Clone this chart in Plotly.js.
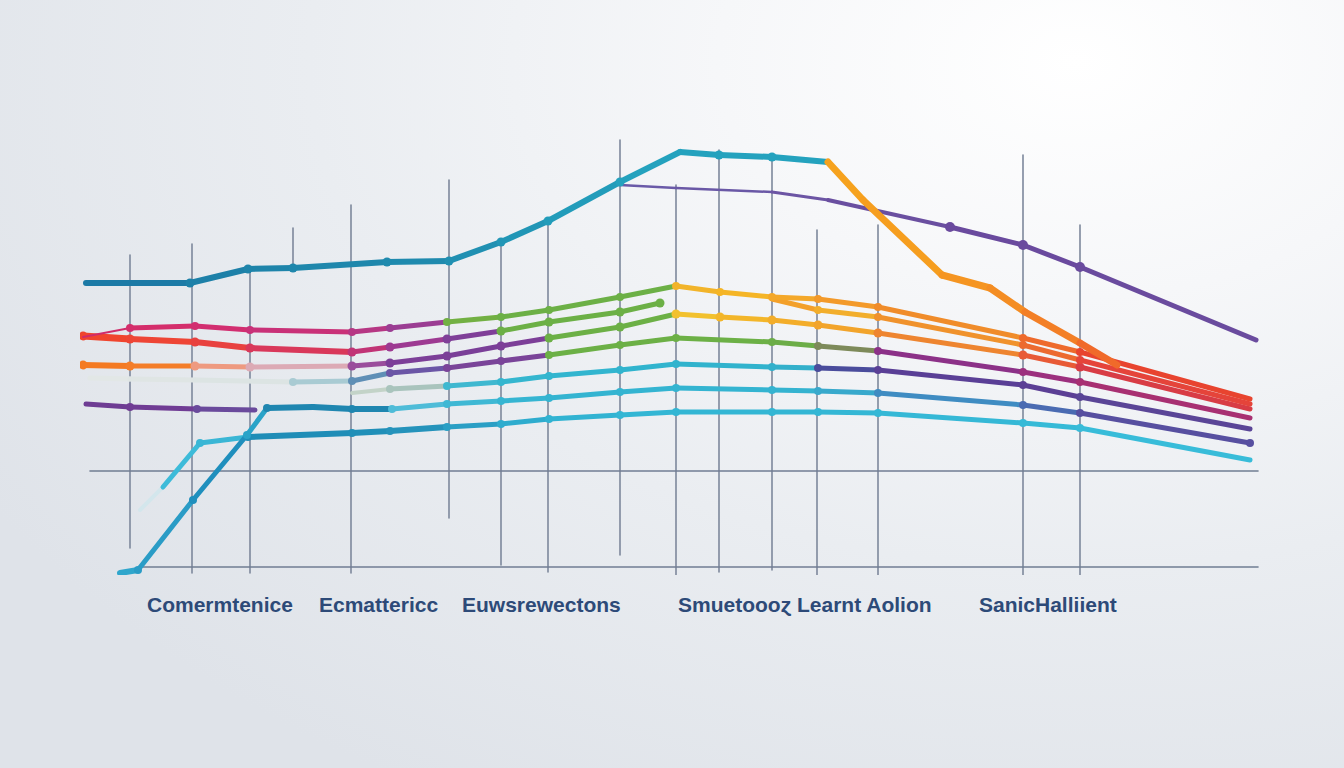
<!DOCTYPE html>
<html>
<head>
<meta charset="utf-8">
<script src="https://cdn.plot.ly/plotly-3.0.1.min.js"></script>
<style>
html,body{margin:0;padding:0;width:1344px;height:768px;overflow:hidden;}
body{background:radial-gradient(ellipse 95% 110% at 80% 8%, #ffffff 0%, #f6f7f9 28%, #eaedf1 60%, #dfe3e9 100%);}
#chart{width:1344px;height:768px;}
path.js-line{stroke-linecap:round;stroke-linejoin:round;}
</style>
</head>
<body>
<div id="chart"></div>
<script>
// ---- category labels ----
const categories = ["Comermtenice", "Ecmattericc", "Euwsrewectons", "Smuetoooɀ Learnt Aolion", "SanicHalliient"];
const categoryX = [14, 29.8, 46.1, 72.5, 96.8];

// ---- vertical guide lines ----
const guideX   = [5, 11.2, 17, 21.3, 27.1, 36.9, 42.1, 46.8, 54, 59.6, 63.9, 69.2, 73.7, 79.8, 94.3, 100];
const guideTop = [31, 32.1, 29.5, 33.7, 36, 38.5, 32.5, 34.5, 42.5, 38, 41.5, 41, 33.5, 34, 41, 34];
const guideBot = [1.7, -0.8, -0.8, 29.6, -0.8, 4.7, 0, -0.7, 1, -1, -0.7, -0.5, -1, -1, -1, -1];

// ---- horizontal guide lines ----
const hLineY  = [9.4, -0.2];
const hLineX0 = [1, 6.3];
const hLineX1 = [117.8, 117.8];

// ---- series ----
const xTeal = [0.6, 11, 16.8, 21.3, 30.7, 36.9, 42.1, 46.8, 54, 60, 63.9, 69.2, 74.8];
const yTeal = [28.2, 28.2, 29.6, 29.7, 30.3, 30.4, 32.3, 34.4, 38.3, 41.3, 41.0, 40.8, 40.3];

const xDrop = [74.8, 78.3, 86.2, 91, 94.5, 100, 103.7];
const yDrop = [40.3, 36.5, 29, 27.7, 25.3, 22.2, 20.0];

const xViolet = [54, 59.6, 69.2, 74.8, 87, 94.3, 100, 117.6];
const yViolet = [38, 37.7, 37.3, 36.5, 33.8, 32, 29.8, 22.5];

const xA = [0.3, 5, 11.5, 17, 27.2, 31, 36.7, 42.1, 46.9, 54, 59.6, 64, 69.2, 73.8, 79.8, 94.3, 100, 117];
const yA = [22.8, 23.7, 23.9, 23.5, 23.3, 23.7, 24.3, 24.8, 25.5, 26.8, 27.9, 27.3, 26.8, 26.6, 25.8, 22.7, 21.3, 16.6];

const xB1 = [0.3, 5, 11.5, 17, 27.2, 31, 36.7, 42.1, 46.9, 54, 58];
const yB1 = [22.9, 22.6, 22.3, 21.7, 21.3, 21.8, 22.6, 23.4, 24.3, 25.3, 26.2];

const xB2 = [69.2, 73.8, 79.8, 94.3, 100, 117];
const yB2 = [26.6, 25.5, 24.8, 22, 20.5, 16.1];

const xC = [0.3, 5, 11.5, 17, 27.2, 31, 36.7, 42.1, 46.9, 54, 59.6, 64, 69.2, 73.8, 79.8, 94.3, 100, 117];
const yC = [20, 19.9, 19.9, 19.8, 19.9, 20.2, 20.9, 21.9, 22.7, 23.8, 25.1, 24.8, 24.5, 24, 23.2, 21, 19.8, 15.6];

const xD = [1, 5, 11.5, 21.3, 27.2, 31, 36.7, 42.1, 46.9, 54, 59.6, 69.2, 73.8, 79.8, 94.3, 100, 117];
const yD = [18.7, 18.6, 18.5, 18.3, 18.4, 19.2, 19.7, 20.4, 21, 22, 22.7, 22.3, 21.9, 21.4, 19.3, 18.3, 14.7];

const xE = [27.2, 31, 36.7, 42.1, 46.9, 54, 59.6, 69.2, 73.8, 79.8, 94.3, 100, 117];
const yE = [17.2, 17.6, 17.9, 18.3, 18.9, 19.5, 20.1, 19.8, 19.7, 19.5, 18, 16.8, 13.6];

const xF = [4, 5.8, 11.3, 16.7, 18.7, 23.3, 27.2, 31.2, 36.7, 42.1, 46.9, 54, 59.6, 69.2, 73.8, 79.8, 94.3, 100, 117];
const yF = [-0.8, -0.5, 6.5, 13, 15.7, 15.8, 15.6, 15.6, 16.1, 16.4, 16.7, 17.3, 17.7, 17.5, 17.4, 17.2, 16, 15.2, 12.2];

const xP = [0.6, 5, 11.7, 17.5];
const yP = [16.1, 15.8, 15.6, 15.5];

const xG = [6, 8.3, 12, 16.8, 27.2, 31, 36.7, 42.1, 46.9, 54, 59.6, 69.2, 73.8, 79.8, 94.3, 100, 117];
const yG = [5.5, 7.8, 12.2, 12.8, 13.2, 13.4, 13.8, 14.1, 14.6, 15, 15.3, 15.3, 15.3, 15.2, 14.2, 13.7, 10.5];

// ---- drawing ----
const traces = [];
const gx = [], gy = [];
for (let i = 0; i < guideX.length; i++) { gx.push(guideX[i], guideX[i], null); gy.push(guideTop[i], guideBot[i], null); }
traces.push({x: gx, y: gy, mode: 'lines', line: {color: '#7d889c', width: 1.6}, hoverinfo: 'skip'});
const hx = [], hy = [];
for (let i = 0; i < hLineY.length; i++) { hx.push(hLineX0[i], hLineX1[i], null); hy.push(hLineY[i], hLineY[i], null); }
traces.push({x: hx, y: hy, mode: 'lines', line: {color: '#707d93', width: 1.6}, hoverinfo: 'skip'});

function addSeries(x, y, cols, w, markSkip, msize) {
  for (let i = 0; i < x.length - 1; i++) {
    traces.push({x: [x[i], x[i+1]], y: [y[i], y[i+1]], mode: 'lines',
      line: {color: cols[i], width: Array.isArray(w) ? w[i] : w}, hoverinfo: 'skip'});
  }
  const mx = [], my = [], mc = [];
  for (let i = 0; i < x.length; i++) {
    if (markSkip.includes(i)) continue;
    mx.push(x[i]); my.push(y[i]); mc.push(cols[Math.min(i, cols.length - 1)]);
  }
  traces.push({x: mx, y: my, mode: 'markers', marker: {color: mc, size: msize || 8}, hoverinfo: 'skip'});
}

// bottom cyan
addSeries(xG, yG,
  ['#d3e6ec', '#3dbbd9', '#3ab6d5', '#1f8db7', '#208fb8', '#2593bb', '#2a9fc5', '#2eacce', '#31b3d2', '#33b6d4', '#33b6d4', '#33b6d4', '#34b7d5', '#35b8d6', '#36bad7', '#38bcd9'],
  [4, 5, 5, 6, 6, 6, 5, 5, 5, 5, 5, 5, 5, 5, 5, 5], [0, 1, 16], 8);
// purple left
addSeries(xP, yP, ['#6e3c93', '#703c94', '#6a4a9c'], 5, [0, 3], 8);
// F: rising teal then cyan to purple
addSeries(xF, yF,
  ['#2fa6cc', '#2a9cc6', '#1f8fbd', '#2aa3c8', '#1f86b0', '#1f86b0', '#1f86b0', '#4fbcd8', '#3fb8d4', '#36b5d2', '#34b4d1', '#34b4d1', '#34b4d1', '#35b3d0', '#38a9cc', '#3f8cc2', '#4a6bb2', '#574fa0'],
  [6, 5, 5, 5, 6, 6, 6, 5, 5, 5, 5, 5, 5, 5, 5, 5, 5, 5], [0, 5], 8);
// E
addSeries(xE, yE,
  ['#c3d3c8', '#a9c4bd', '#3fb8d0', '#35b6cf', '#32b5cf', '#31b4ce', '#31b3cd', '#33b0cb', '#4a4c9c', '#5a3f96', '#5b3f95', '#5a4597'],
  [4, 5, 5, 5, 5, 5, 5, 5, 5, 5, 5, 5], [0, 12], 8);
// D
addSeries(xD, yD,
  ['#e2e7e6', '#dfe5e4', '#dce4e3', '#a9cbd3', '#5f8fb6', '#6b56a6', '#7a4499', '#7a4499', '#6cb046', '#6cb046', '#6cb046', '#6cad48', '#7d8a5a', '#8c3188', '#9c307e', '#a83072'],
  [5, 5, 5, 5, 5, 5, 5, 5, 5, 5, 5, 5, 5, 5, 5, 5], [0, 1, 2, 16], 8);
// C
addSeries(xC, yC,
  ['#f47a22', '#f47d28', '#ee9a80', '#dcaab5', '#9a4e9c', '#7c3f98', '#7a3f98', '#7c3f98', '#6cb046', '#6cb046', '#f2c12e', '#f3b62a', '#f3ad2a', '#f2a42b', '#ee8530', '#e85a36', '#d83c45'],
  [6, 5, 5, 5, 5, 5, 5, 5, 5, 5, 5, 5, 5, 5, 5, 5, 5], [17], 9);
// B1
addSeries(xB1, yB1,
  ['#f0452e', '#ee4535', '#e8413f', '#d9385a', '#c13476', '#9d3a92', '#7f3f98', '#6cb046', '#6cb046', '#6cb046'],
  [7, 6, 6, 6, 5, 5, 5, 5, 5, 5], [], 9);
// B2
addSeries(xB2, yB2, ['#f3a02a', '#f2ae2c', '#f0922c', '#ec6a30', '#e5443a'], 5, [0, 5], 8);
// A
addSeries(xA, yA,
  ['#d02c6a', '#d42d6b', '#d22e70', '#c93178', '#b63784', '#9b3d93', '#72b043', '#6cb046', '#6cb046', '#6cb046', '#f2b42a', '#f5b526', '#f4a82a', '#f39a2a', '#f08c2a', '#ee6a2c', '#e8442f'],
  [2, 5, 5, 5, 5, 5, 5, 5, 5, 5, 5, 5, 5, 5, 5, 5, 5], [0, 17], 8);
// top violet
addSeries(xViolet, yViolet, ['#6a5aa8', '#6a58a6', '#6c55a4', '#6a4fa0', '#6a4a9e', '#6a4a9e', '#6a4b9e'], [2.5, 2.5, 3, 4, 5, 5, 5], [0, 1, 2, 3, 7], 10);
// top teal
addSeries(xTeal, yTeal, ['#1c7aa6', '#1d80a8', '#1e84aa', '#1f87ac', '#1f8aae', '#2090b2', '#2196b6', '#229cba', '#24a2be', '#24a2be', '#24a2be', '#24a2be'], 6, [0, 9, 12], 9);
// orange drop
addSeries(xDrop, yDrop, ['#f6a21e', '#f69e1f', '#f59522', '#f48d23', '#f37f26', '#f06a2a'], 7, [0, 1, 2, 3, 4, 5, 6], 8);

const annotations = categories.map((c, i) => ({
  x: categoryX[i], xref: 'x', y: -0.066, yref: 'paper', text: c, showarrow: false,
  xanchor: 'center', yanchor: 'middle',
  font: {family: 'Liberation Sans, Arial, sans-serif', size: 21, weight: 700, color: '#2d4a78'}
}));

const layout = {
  width: 1344, height: 768,
  margin: {l: 80, r: 84, t: 130, b: 193},
  paper_bgcolor: 'rgba(0,0,0,0)', plot_bgcolor: 'rgba(0,0,0,0)',
  showlegend: false,
  xaxis: {range: [0, 118], visible: false, fixedrange: true},
  yaxis: {range: [-1, 43.5], visible: false, fixedrange: true},
  annotations: annotations
};
Plotly.newPlot('chart', traces, layout, {displayModeBar: false, staticPlot: true});
</script>
</body>
</html>
